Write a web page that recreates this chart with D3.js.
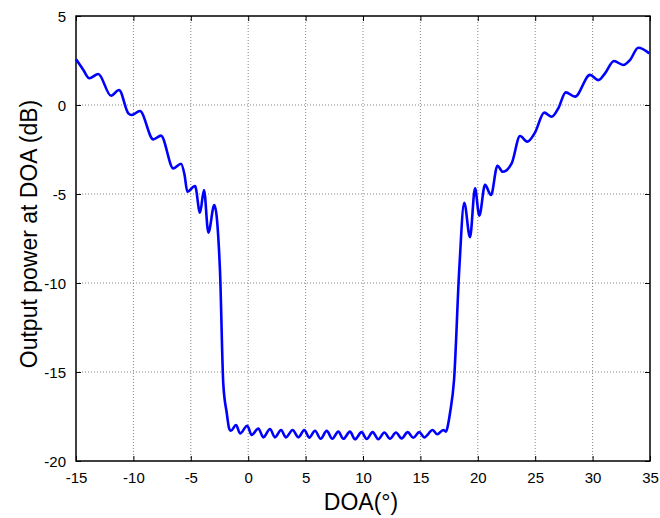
<!DOCTYPE html>
<html><head><meta charset="utf-8">
<script src="https://cdn.jsdelivr.net/npm/d3@7"></script>
<style>body{margin:0;background:#fff}svg{display:block}</style>
</head><body>
<script>
const doa = [-15,-14.36,-13.84,-13.06,-11.95,-11.25,-10.44,-10.15,-9.43,-8.27,-7.6,-6.52,-5.85,-5.55,-5.3,-4.63,-4.2,-3.85,-3.47,-2.95,-2.46,-2.17,-1.87,-1.65,-1.5,
  -1.06,-0.71,-0.08,0.3,0.88,1.32,1.9,2.33,2.86,3.29,3.87,4.37,4.89,5.32,5.82,6.31,6.84,7.33,7.85,8.29,8.87,9.3,9.88,10.32,10.84,11.33,11.86,12.35,12.87,13.37,13.89,14.38,14.9,15.34,16.07,16.47,16.99,17.23,
  17.43,17.58,17.93,18.39,18.82,19.32,19.76,20.13,20.63,21.15,21.71,22.17,22.95,23.68,24.31,24.98,25.79,26.44,27.01,27.66,28.47,29.77,30.5,31.08,31.86,32.67,33.26,33.98,34.94];
const power = [2.57,1.97,1.5,1.74,0.52,0.84,-0.47,-0.56,-0.34,-1.93,-1.72,-3.56,-3.3,-3.9,-4.87,-4.55,-6.05,-4.78,-7.17,-5.62,-9.27,-15.67,-17.3,-18.2,-18.3,
  -17.98,-18.45,-18.02,-18.54,-18.17,-18.67,-18.2,-18.67,-18.26,-18.67,-18.26,-18.67,-18.26,-18.69,-18.3,-18.75,-18.31,-18.75,-18.35,-18.75,-18.35,-18.78,-18.38,-18.76,-18.38,-18.78,-18.4,-18.75,-18.4,-18.73,-18.38,-18.69,-18.38,-18.67,-18.26,-18.5,-18.26,-18.35,
  -17.88,-17.3,-15.45,-9.17,-5.49,-7.43,-4.68,-6.22,-4.49,-5.06,-3.41,-3.75,-3.28,-1.74,-2.06,-1.55,-0.43,-0.66,-0.19,0.71,0.47,1.69,1.4,1.78,2.47,2.25,2.53,3.22,2.9];
const xTicks = [-15,-10,-5,0,5,10,15,20,25,30,35];
const yTicks = [5,0,-5,-10,-15,-20];

const W = 660, H = 518;
const m = {l:76, r:10, t:16, b:57};
const svg = d3.select("body").append("svg").attr("width",W).attr("height",H);
const x = d3.scaleLinear().domain([-15,35]).range([m.l, W-m.r]);
const y = d3.scaleLinear().domain([-20,5]).range([H-m.b, m.t]);
const font = "Liberation Sans, Arial, sans-serif";
const fmt = d => String(d);

// grid
const g = svg.append("g");
g.selectAll("line.gx").data(xTicks.slice(1,-1)).enter().append("line")
  .attr("x1",d=>x(d)).attr("x2",d=>x(d)).attr("y1",y(-20)).attr("y2",y(5))
  .attr("stroke","#666").attr("stroke-width",0.8).attr("stroke-dasharray","1,2");
g.selectAll("line.gy").data(yTicks.slice(1,-1)).enter().append("line")
  .attr("y1",d=>y(d)).attr("y2",d=>y(d)).attr("x1",x(-15)).attr("x2",x(35))
  .attr("stroke","#666").attr("stroke-width",0.8).attr("stroke-dasharray","1,2");

// axes
const ax = svg.append("g").attr("transform",`translate(0,${y(-20)})`)
  .call(d3.axisBottom(x).tickValues(xTicks).tickSizeInner(-5).tickSizeOuter(0).tickPadding(11).tickFormat(fmt));
const axT = svg.append("g").attr("transform",`translate(0,${y(5)})`)
  .call(d3.axisTop(x).tickValues(xTicks).tickSizeInner(-5).tickSizeOuter(0).tickFormat(""));
const ay = svg.append("g").attr("transform",`translate(${x(-15)},0)`)
  .call(d3.axisLeft(y).tickValues(yTicks).tickSizeInner(-5).tickSizeOuter(0).tickPadding(10).tickFormat(fmt));
const ayR = svg.append("g").attr("transform",`translate(${x(35)},0)`)
  .call(d3.axisRight(y).tickValues(yTicks).tickSizeInner(-5).tickSizeOuter(0).tickFormat(""));
[ax,axT,ay,ayR].forEach(a=>{
  a.select(".domain").remove();
  a.selectAll(".tick line").attr("stroke","#000").attr("stroke-width",1);
  a.selectAll("text").attr("font-family",font).attr("font-size","15px").attr("fill","#000");
});
ay.selectAll("text").attr("dy","0.35em");

// box
svg.append("rect").attr("x",x(-15)).attr("y",y(5)).attr("width",x(35)-x(-15)).attr("height",y(-20)-y(5))
  .attr("fill","none").attr("stroke","#000").attr("stroke-width",1.5);

// line
const data = doa.map((d,i)=>[d,power[i]]);
svg.append("path").datum(data)
  .attr("d", d3.line().x(d=>x(d[0])).y(d=>y(d[1])).curve(d3.curveMonotoneX))
  .attr("fill","none").attr("stroke","#0000ff").attr("stroke-width",2.6).attr("stroke-linejoin","round");

// labels
svg.append("text").attr("x",361).attr("y",510).attr("text-anchor","middle")
  .attr("font-family",font).attr("font-size","23px").text("DOA(°)");
svg.append("text").attr("transform",`translate(37,234) rotate(-90)`).attr("text-anchor","middle")
  .attr("font-family",font).attr("font-size","23px").text("Output power at DOA (dB)");
</script>
</body></html>
